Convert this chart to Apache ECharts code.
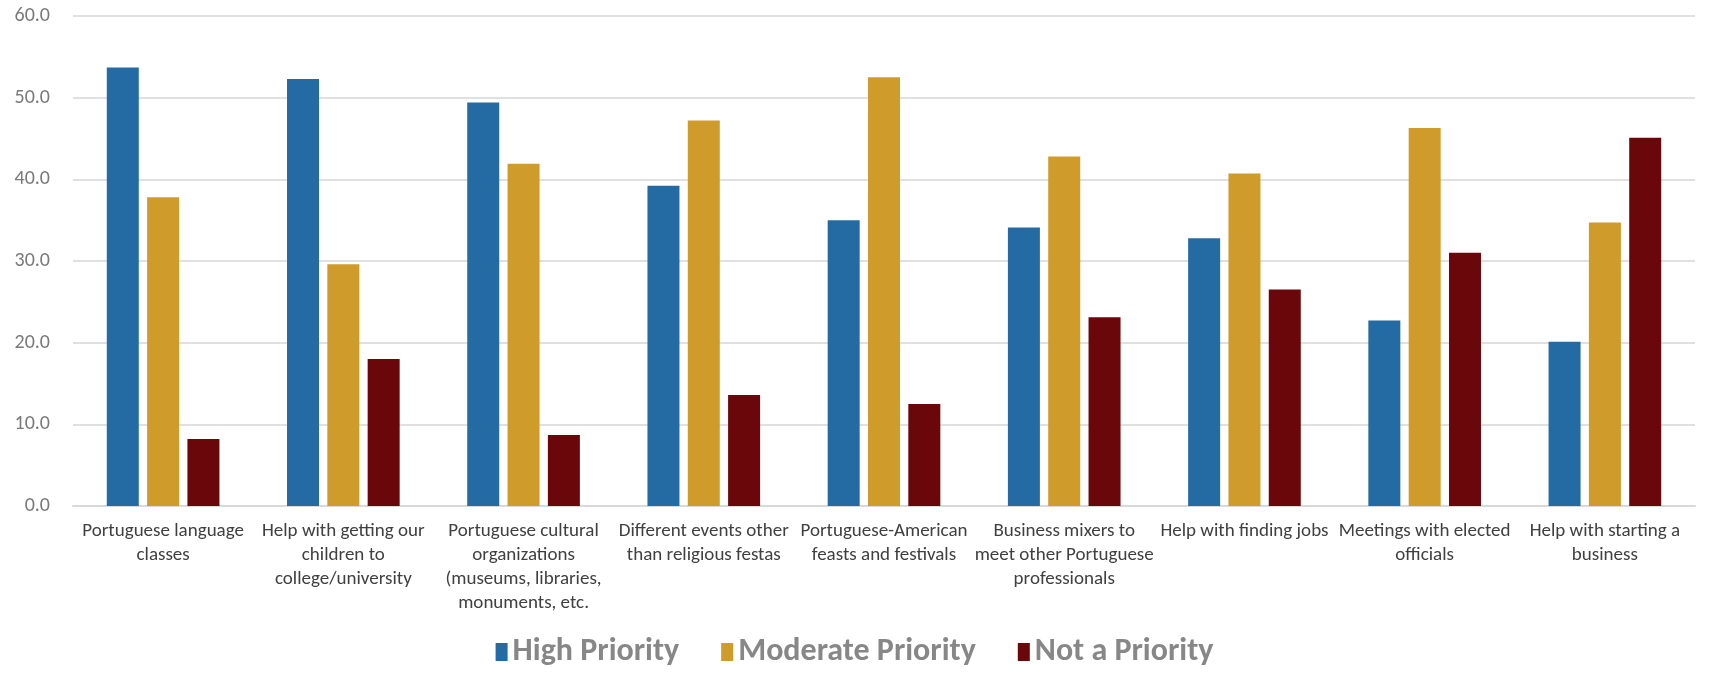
<!DOCTYPE html>
<html>
<head>
<meta charset="utf-8">
<script src="https://cdn.jsdelivr.net/npm/echarts@6/dist/echarts.min.js"></script>
<style>
html, body { margin: 0; padding: 0; background: #fff; }
#chart { width: 1709px; height: 677px; }
</style>
</head>
<body>
<div id="chart"></div>
<script>
let categories = [
	"Portuguese language\nclasses",
	"Help with getting our\nchildren to\ncollege/university",
	"Portuguese cultural\norganizations\n(museums, libraries,\nmonuments, etc.",
	"Different events other\nthan religious festas",
	"Portuguese-American\nfeasts and festivals",
	"Business mixers to\nmeet other Portuguese\nprofessionals",
	"Help with finding jobs",
	"Meetings with elected\nofficials",
	"Help with starting a\nbusiness"
];
let highPriority = [53.7, 52.3, 49.4, 39.2, 35.0, 34.1, 32.8, 22.7, 20.1];
let moderatePriority = [37.8, 29.6, 41.9, 47.2, 52.5, 42.8, 40.7, 46.3, 34.7];
let notPriority = [8.2, 18.0, 8.7, 13.6, 12.5, 23.1, 26.5, 31.0, 45.1];
let yTicks = [0, 10, 20, 30, 40, 50, 60];

let chart = echarts.init(document.getElementById("chart"));

let font = 'Carlito, "Liberation Sans", sans-serif';

function barSeries(name, data, color) {
	return {
		name: name,
		type: "bar",
		data: data,
		barWidth: 32,
		barGap: "26%",
		itemStyle: {color: color},
		emphasis: {disabled: true}
	};
}

chart.setOption({
	animation: false,
	grid: {left: 73, right: 14, top: 16, bottom: 171},
	legend: {
		bottom: 4,
		left: "center",
		itemWidth: 12,
		itemHeight: 18,
		itemGap: 42,
		icon: "rect",
		textStyle: {fontFamily: font, fontSize: 32, fontWeight: "bold", color: "#878787"},
		data: ["High Priority", "Moderate Priority", "Not a Priority"]
	},
	xAxis: {
		type: "category",
		data: categories,
		axisTick: {show: false},
		axisLine: {lineStyle: {color: "#d9d9d9", width: 2}},
		axisLabel: {
			interval: 0,
			margin: 13,
			fontFamily: font,
			fontSize: 19,
			lineHeight: 24,
			color: "#404040"
		}
	},
	yAxis: {
		type: "value",
		min: yTicks[0],
		max: yTicks[yTicks.length - 1],
		interval: 10,
		axisLine: {show: false},
		axisTick: {show: false},
		splitLine: {lineStyle: {color: "#e0e0e0", width: 2}},
		axisLabel: {
			margin: 23,
			fontFamily: font,
			fontSize: 20,
			color: "#7a7a7a",
			formatter: v => v.toFixed(1)
		}
	},
	series: [
		barSeries("High Priority", highPriority, "#246ba4"),
		barSeries("Moderate Priority", moderatePriority, "#cf9c2b"),
		barSeries("Not a Priority", notPriority, "#69070b")
	]
});
</script>
</body>
</html>
